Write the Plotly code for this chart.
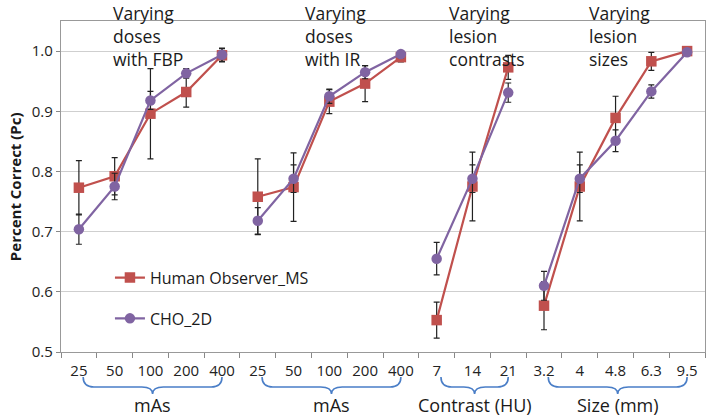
import plotly.graph_objects as go

# ---- data ----
group_titles = ["Varying<br>doses<br>with FBP", "Varying<br>doses<br>with IR",
                "Varying<br>lesion<br>contrasts", "Varying<br>lesion<br>sizes"]
group_axis_labels = ["mAs", "mAs", "Contrast (HU)", "Size (mm)"]
group_categories = [
    ["25", "50", "100", "200", "400"],
    ["25", "50", "100", "200", "400"],
    ["7", "14", "21"],
    ["3.2", "4", "4.8", "6.3", "9.5"],
]
human_values = [
    [0.773, 0.792, 0.896, 0.932, 0.993],
    [0.758, 0.774, 0.916, 0.946, 0.990],
    [0.553, 0.775, 0.973],
    [0.577, 0.775, 0.889, 0.983, 1.000],
]
human_errors = [
    [0.045, 0.031, 0.075, 0.025, 0.011],
    [0.063, 0.057, 0.020, 0.030, 0.008],
    [0.030, 0.057, 0.020],
    [0.040, 0.057, 0.036, 0.015, 0.0],
]
cho_values = [
    [0.704, 0.775, 0.918, 0.963, 0.994],
    [0.718, 0.788, 0.925, 0.965, 0.995],
    [0.655, 0.788, 0.931],
    [0.610, 0.788, 0.851, 0.933, 0.998],
]
cho_errors = [
    [0.025, 0.022, 0.015, 0.008, 0.011],
    [0.022, 0.023, 0.012, 0.011, 0.006],
    [0.027, 0.023, 0.016],
    [0.024, 0.023, 0.018, 0.011, 0.0],
]
series_names = ["Human Observer_MS", "CHO_2D"]

RED = "#C0504D"
PURPLE = "#8064A2"
BLUE = "#4A7EC7"
FONT = "Open Sans"

# build flat category positions with breaks between groups
tick_vals, tick_text = [], []
xs, hy, he, cy, ce = [], [], [], [], []
group_ranges = []
idx = 0
for g, cats in enumerate(group_categories):
    start = idx
    for k, c in enumerate(cats):
        tick_vals.append(idx)
        tick_text.append(c)
        xs.append(idx)
        hy.append(human_values[g][k]); he.append(human_errors[g][k])
        cy.append(cho_values[g][k]); ce.append(cho_errors[g][k])
        idx += 1
    group_ranges.append((start, idx - 1))
    xs.append(None); hy.append(None); he.append(0); cy.append(None); ce.append(0)
n_cat = idx

fig = go.Figure()
fig.add_trace(go.Scatter(
    x=xs, y=hy, name=series_names[0], mode="lines+markers",
    line=dict(color=RED, width=2.2),
    marker=dict(symbol="square", size=10.5, color=RED),
    error_y=dict(type="data", array=he, visible=True, color="#222", thickness=1.2, width=3),
    legendgroup="a", connectgaps=False,
))
fig.add_trace(go.Scatter(
    x=xs, y=cy, name=series_names[1], mode="lines+markers",
    line=dict(color=PURPLE, width=2.2),
    marker=dict(symbol="circle", size=10.5, color=PURPLE),
    error_y=dict(type="data", array=ce, visible=True, color="#222", thickness=1.2, width=3),
    legendgroup="b", connectgaps=False,
))

# group titles (top) and axis braces (bottom)
title_offsets = [0.9, 6.25, 10.3, 14.2]
annotations = []
shapes = []
y_top, y_mid, y_bot = -0.0755, -0.1057, -0.127
for g, (a, b) in enumerate(group_ranges):
    annotations.append(dict(
        x=title_offsets[g], y=1.066, xref="x", yref="paper", xanchor="left", yanchor="top",
        text=group_titles[g], showarrow=False, align="left",
        font=dict(family=FONT, size=17.5, color="#1a1a1a"),
    ))
    x0 = a + 0.12
    x1 = b
    xc = (x0 + x1) / 2
    d = 0.3
    path = (f"M {x0},{y_top} Q {x0},{y_mid} {x0 + d},{y_mid} L {xc - d},{y_mid} "
            f"Q {xc},{y_mid} {xc},{y_bot} Q {xc},{y_mid} {xc + d},{y_mid} "
            f"L {x1 - d},{y_mid} Q {x1},{y_mid} {x1},{y_top}")
    shapes.append(dict(type="path", path=path, xref="x", yref="paper",
                       line=dict(color=BLUE, width=1.6)))
    annotations.append(dict(
        x=xc, y=-0.16, xref="x", yref="paper", xanchor="center", yanchor="middle",
        text=group_axis_labels[g], showarrow=False,
        font=dict(family=FONT, size=18, color="#1a1a1a"),
    ))

# y-axis title as annotation for exact placement
annotations.append(dict(
    x=-0.072, y=0.5, xref="paper", yref="paper", xanchor="center", yanchor="middle",
    text="<b>Percent Correct (Pc)</b>", textangle=-90, showarrow=False,
    font=dict(family=FONT, size=15, color="#1a1a1a"),
))

fig.update_layout(
    width=709, height=416,
    margin=dict(l=61, r=4, t=21, b=64, autoexpand=False),
    paper_bgcolor="white", plot_bgcolor="white",
    font=dict(family=FONT, size=15, color="#222"),
    showlegend=True,
    legend=dict(x=0.076, y=0.276, xanchor="left", yanchor="top",
                bgcolor="rgba(0,0,0,0)", font=dict(size=16, color="#1a1a1a"),
                traceorder="grouped", tracegroupgap=17, itemwidth=30),
    annotations=annotations,
    shapes=shapes,
)
fig.update_xaxes(
    range=[-0.5, n_cat - 0.5], automargin=False,
    tickvals=tick_vals, ticktext=tick_text, ticks="",
    minor=dict(tickvals=[i - 0.5 for i in range(n_cat + 1)], ticks="outside",
               ticklen=5, tickcolor="#888", showgrid=False),
    showline=True, linecolor="#999", linewidth=1.2, mirror=True,
    showgrid=False, zeroline=False, ticklabelstandoff=5,
    tickfont=dict(size=15),
)
fig.update_yaxes(
    range=[0.5, 1.05], tick0=0.5, dtick=0.1, tickformat=".1f", automargin=False,
    ticks="outside", ticklen=4, tickcolor="#888",
    showline=True, linecolor="#999", linewidth=1.2, mirror=True,
    showgrid=True, gridcolor="#cfcfcf", zeroline=False,
    tickfont=dict(size=15),
)

fig.write_html("out.html", config={"displayModeBar": False},
               post_script="document.body.style.margin='0';")
